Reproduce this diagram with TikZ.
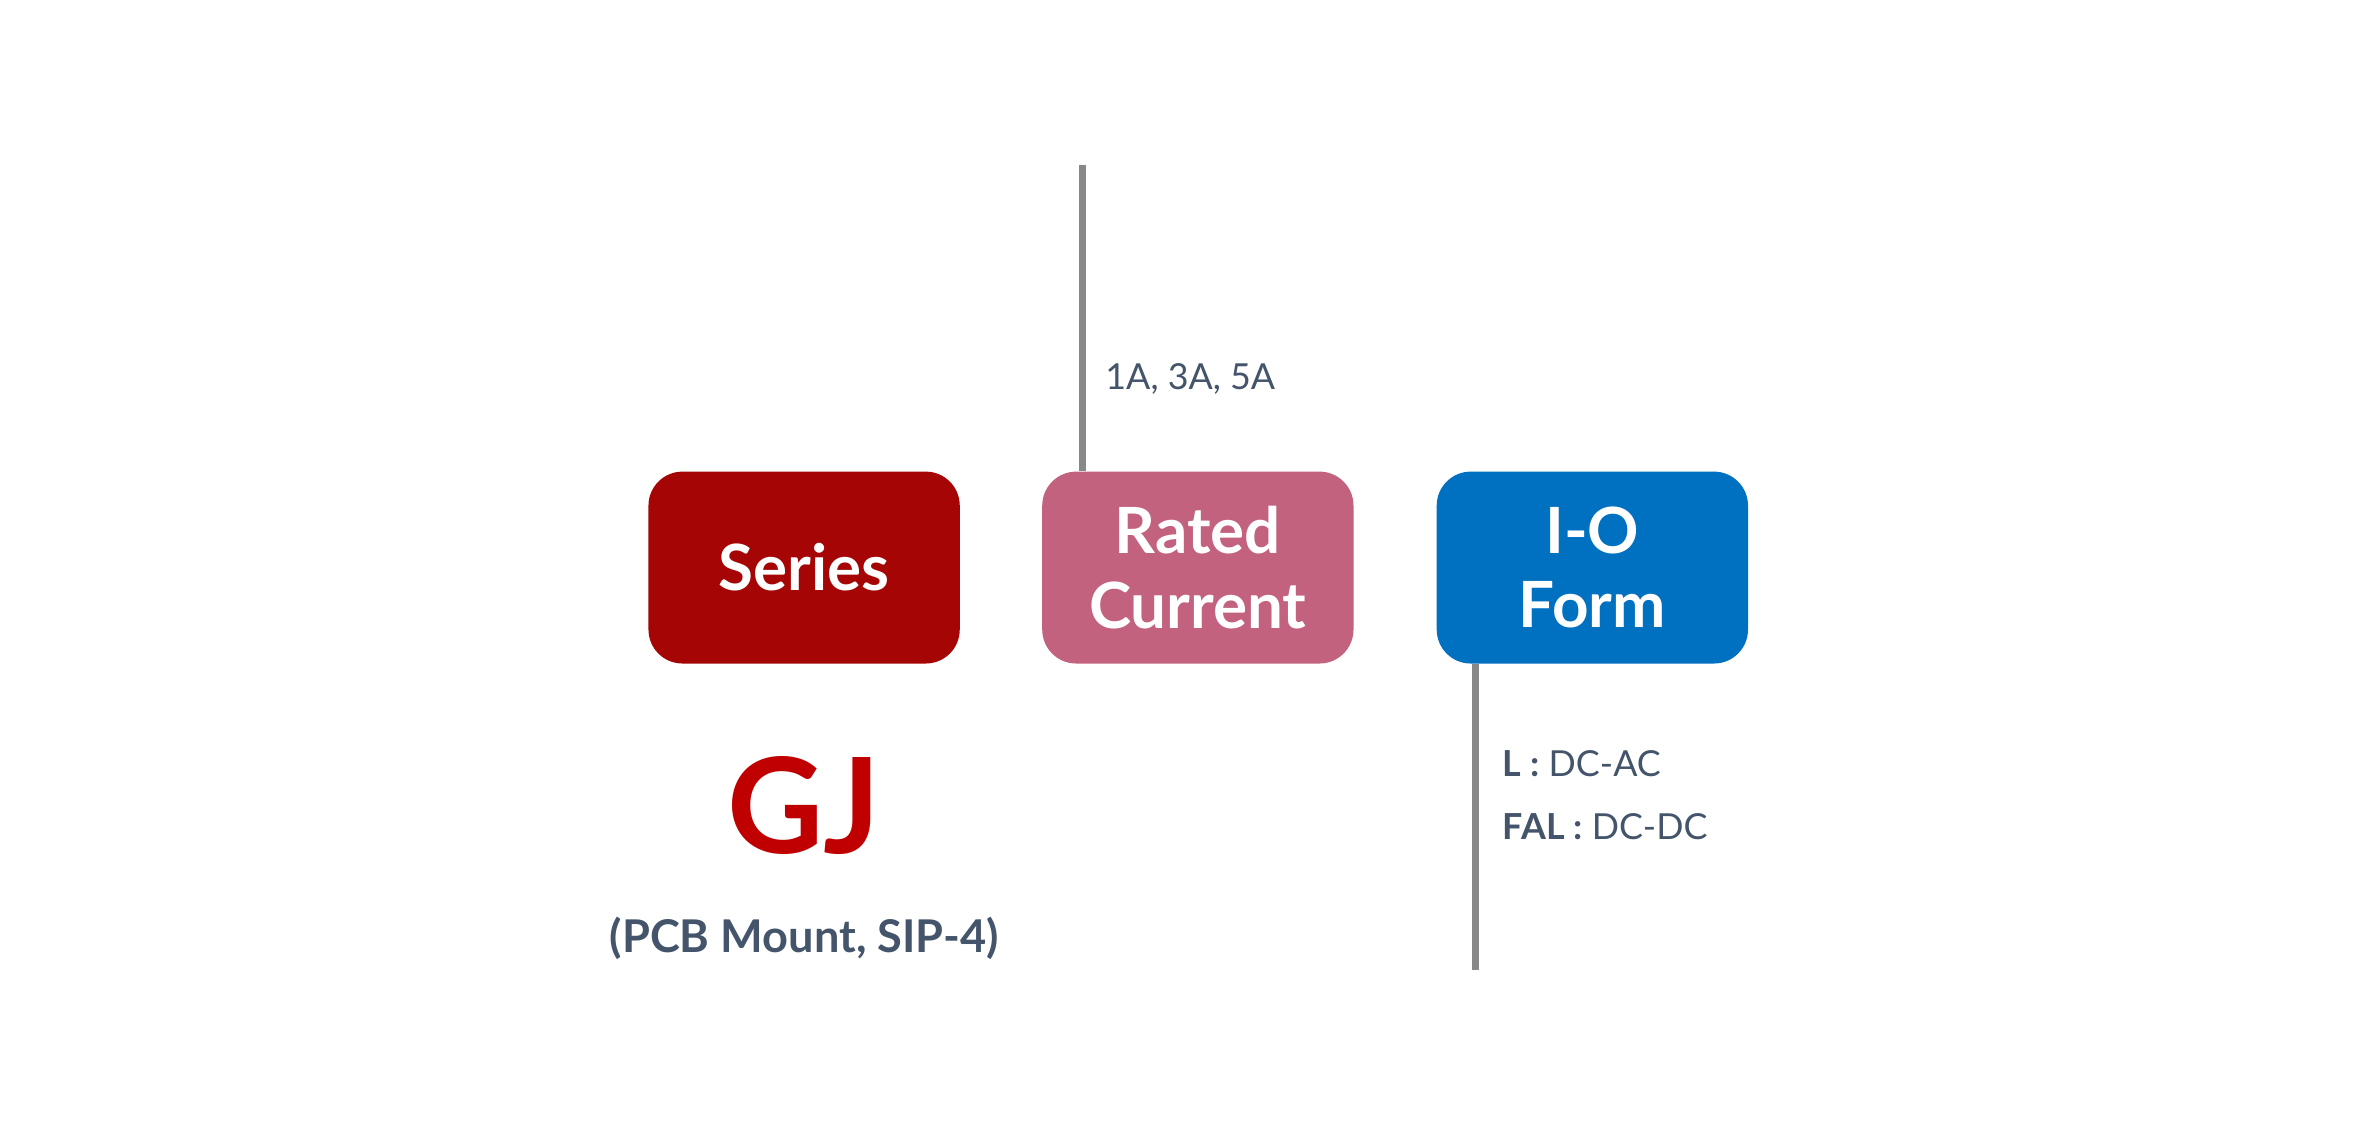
\documentclass[tikz,border=0pt]{standalone}
\usepackage{fontspec}
\setmainfont{Lato}
\definecolor{ser}{HTML}{A50505}
\definecolor{rat}{HTML}{C2627F}
\definecolor{io}{HTML}{0070C0}
\definecolor{gj}{HTML}{C00000}
\definecolor{tx}{HTML}{44546A}
\definecolor{ln}{HTML}{888888}
\begin{document}
\begin{tikzpicture}[x=0.02cm,y=-0.02cm,
 box/.style={rounded corners=0.45cm,minimum width=4.12cm,minimum height=2.54cm,text=white,font=\bfseries\fontsize{24}{28}\selectfont,align=center,inner sep=0pt},
 conn/.style={draw=ln,line width=2.8pt},
 lab/.style={text=tx,font=\fontsize{13.5}{16}\selectfont,anchor=west,inner sep=0pt}]
\useasboundingbox (0,0) rectangle (1568,751);
\node[box,fill=ser] (s) at (532,375.5) {Series};
\node[box,fill=rat] (r) at (792.5,375.5) {Rated\\Current};
\node[box,fill=io] (i) at (1053.5,375.5) {I-O\\Form};
\coordinate (rt) at (716,109);
\coordinate (ib) at (976,642);
\draw[conn] (rt) -- (r.north west -| rt);
\draw[conn] (i.south west -| ib) -- (ib);
\node[lab] (l1) at (731,251) {1A, 3A, 5A};
\node[lab] (l2) at (994,505) {\textbf{L :} DC-AC};
\node[lab] (l3) at (994,547) {\textbf{FAL :} DC-DC};
\node[text=gj,font=\bfseries\fontsize{50}{56}\selectfont] (g) at (532,533) {GJ};
\node[text=tx,font=\bfseries\fontsize{17}{20}\selectfont] (p) at (532,621) {(PCB Mount, SIP-4)};
\end{tikzpicture}
\end{document}
